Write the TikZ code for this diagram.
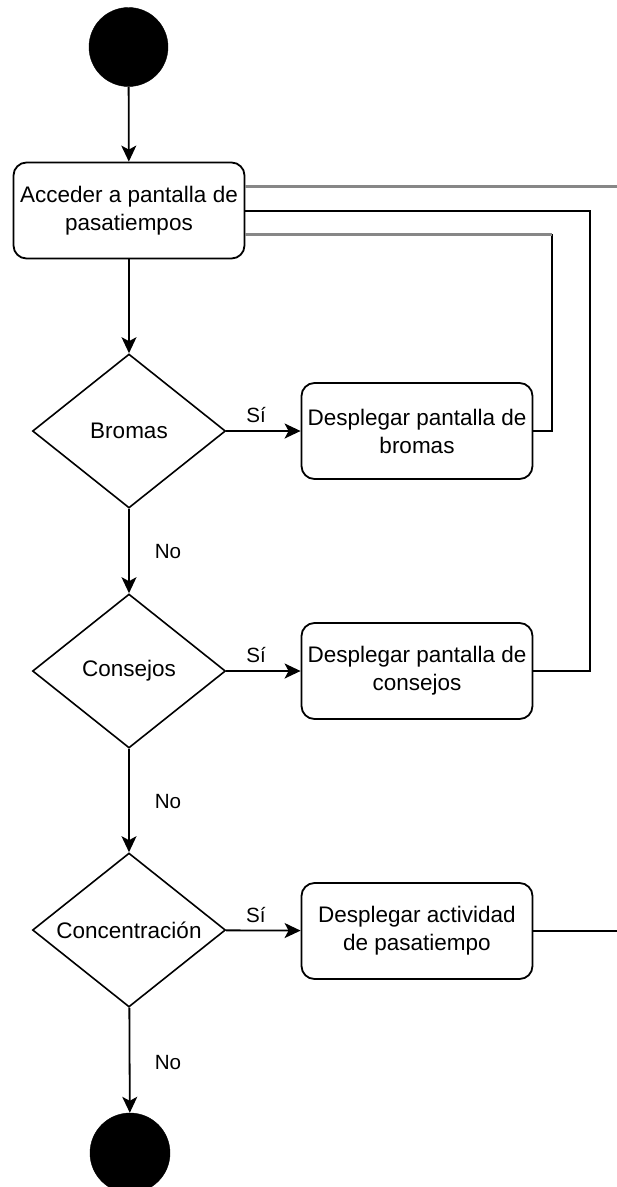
\documentclass[tikz,border=0pt]{standalone}
\usepackage{fontspec}
\setmainfont{Liberation Sans}
\usetikzlibrary{shapes.geometric,arrows.meta}
\definecolor{linegray}{RGB}{135,135,135}
\begin{document}
\begin{tikzpicture}[x=1pt,y=-1pt,
  every node/.style={font=\fontsize{22.5}{28}\selectfont},
  terminal/.style={circle,fill=black,draw=black,minimum size=79pt,inner sep=0pt},
  actionbox/.style={draw=black,line width=1.8pt,rounded corners=13pt,align=center,
    inner sep=0pt,minimum width=231pt,minimum height=96pt},
  choice/.style={diamond,draw=black,line width=1.6pt,inner sep=0pt,aspect=1.25,
    minimum width=193pt,minimum height=154pt,align=center},
  flow/.style={line width=1.8pt,-{Stealth[length=16pt,width=15pt,inset=4pt]}},
  link/.style={line width=1.8pt},
  graylink/.style={draw=linegray,line width=3pt},
  edgelabel/.style={font=\fontsize{20.6}{24}\selectfont}]
\useasboundingbox (0,0) rectangle (617,1187);
\clip (0,0) rectangle (617,1187);

% nodes
\node[terminal] (start) at (128.5,47) {};
\node[actionbox] (access) at (129,210.5) {Acceder a pantalla de\\pasatiempos};
\node[choice] (jokes) at (129,431) {Bromas};
\node[actionbox] (jokesbox) at (417,431) {Desplegar pantalla de\\bromas};
\node[choice] (tips) at (129,671) {Consejos};
\node[actionbox] (tipsbox) at (417,671) {Desplegar pantalla de\\consejos};
\node[choice] (focus) at (129,930) {Concentración};
\node[actionbox] (activity) at (417,931) {Desplegar actividad\\de pasatiempo};
\node[terminal,minimum size=80pt] (stop) at (130,1153) {};

% main flow
\draw[flow] (start) -- (access);
\draw[flow] (access) -- (jokes);
\draw[flow] (jokes) -- node[edgelabel,pos=0.4,above=4pt]{Sí} (jokesbox);
\draw[flow] (jokes) -- (tips);
\draw[flow] (tips) -- node[edgelabel,pos=0.4,above=4pt]{Sí} (tipsbox);
\draw[flow] (tips) -- (focus);
\draw[flow] (focus) -- node[edgelabel,pos=0.4,above=4pt]{Sí} (activity);
\draw[flow] (focus) -- (stop);

\node[edgelabel] (no1) at (168,552) {No};
\node[edgelabel] (no2) at (168,802) {No};
\node[edgelabel] (no3) at (168,1062) {No};

% return lines on the right
\coordinate (outTop) at (617,186);
\coordinate (outAct) at (617,931);
\coordinate (tipsRail) at (590,211);
\coordinate (jokesRail) at (552,234);

\draw[graylink] (access.east |- outTop) -- (outTop);
\draw[link] (tipsbox.east) -| (tipsRail) -- (access.east |- tipsRail);
\draw[link] (jokesbox.east) -| (jokesRail);
\draw[graylink] (jokesRail) -- (access.east |- jokesRail);
\draw[link] (activity.east) -- (outAct);
\end{tikzpicture}
\end{document}
